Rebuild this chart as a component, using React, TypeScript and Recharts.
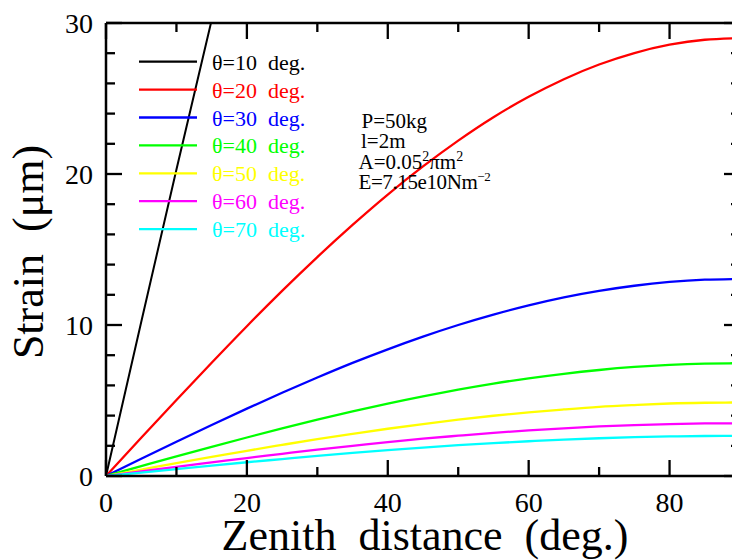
import React from 'react';
import { LineChart, Line, XAxis, YAxis } from 'recharts';

const zenith = [0, 5, 10, 15, 20, 25, 30, 35, 40, 45, 50, 55, 60, 65, 70, 75, 80, 85, 90];
const strain10 = [0, 10.2, 20.3, 30.2, 39.9, null, null, null, null, null, null, null, null, null, null, null, null, null, null];
const strain20 = [0, 2.53, 5.03, 7.5, 9.92, 12.26, 14.5, 16.63, 18.64, 20.5, 22.21, 23.76, 25.11, 26.28, 27.25, 28.01, 28.56, 28.89, 29.0];
const strain30 = [0, 1.14, 2.27, 3.38, 4.46, 5.51, 6.52, 7.49, 8.39, 9.23, 10.0, 10.69, 11.3, 11.83, 12.26, 12.6, 12.85, 13.0, 13.05];
const strain40 = [0, 0.65, 1.3, 1.93, 2.55, 3.16, 3.74, 4.28, 4.8, 5.28, 5.72, 6.12, 6.47, 6.77, 7.02, 7.22, 7.36, 7.44, 7.47];
const strain50 = [0, 0.42, 0.85, 1.26, 1.67, 2.06, 2.44, 2.79, 3.13, 3.44, 3.73, 3.99, 4.22, 4.41, 4.58, 4.7, 4.8, 4.85, 4.87];
const strain60 = [0, 0.3, 0.61, 0.9, 1.19, 1.47, 1.75, 2.0, 2.24, 2.47, 2.67, 2.86, 3.02, 3.16, 3.28, 3.37, 3.44, 3.48, 3.49];
const strain70 = [0, 0.23, 0.46, 0.69, 0.91, 1.12, 1.33, 1.53, 1.71, 1.88, 2.04, 2.18, 2.3, 2.41, 2.5, 2.57, 2.62, 2.65, 2.66];

const seriesLabels = ['θ=10', 'θ=20', 'θ=30', 'θ=40', 'θ=50', 'θ=60', 'θ=70'];
const seriesColors = ['#000000', '#ff0000', '#0000ff', '#00ff00', '#ffff00', '#ff00ff', '#00ffff'];
const seriesKeys = ['t10', 't20', 't30', 't40', 't50', 't60', 't70'];
const seriesValues = [strain10, strain20, strain30, strain40, strain50, strain60, strain70];

const xTicks = [0, 10, 20, 30, 40, 50, 60, 70, 80];
const xLabelTicks = [0, 20, 40, 60, 80];
const yTicks = [0, 2, 4, 6, 8, 10, 12, 14, 16, 18, 20, 22, 24, 26, 28, 30];
const yLabelTicks = [0, 10, 20, 30];

const annotations = ['P=50kg', 'l=2m'];

const data = zenith.map((z, i) => {
  const row: any = { z };
  seriesKeys.forEach((k, j) => {
    row[k] = seriesValues[j][i];
  });
  return row;
});

const FONT = 'Liberation Serif, Times New Roman, Times, DejaVu Serif, serif';
const serif: React.CSSProperties = { fontFamily: FONT };
const MAJOR = 16;
const MINOR = 9;

const BottomTick = (props: any) => {
  const { x, y, payload } = props;
  const major = xLabelTicks.includes(payload.value);
  return (
    <g>
      <line x1={x} x2={x} y1={y} y2={y - (major ? MAJOR : MINOR)} stroke="#000" strokeWidth={2.3} />
      {major && (
        <text x={x} y={y + 36} textAnchor="middle" fontSize={28} style={serif} fill="#000">
          {payload.value}
        </text>
      )}
    </g>
  );
};

const TopTick = (props: any) => {
  const { x, y, payload } = props;
  const major = xLabelTicks.includes(payload.value);
  return <line x1={x} x2={x} y1={y} y2={y + (major ? MAJOR : MINOR)} stroke="#000" strokeWidth={2.3} />;
};

const LeftTick = (props: any) => {
  const { x, y, payload } = props;
  const major = yLabelTicks.includes(payload.value);
  return (
    <g>
      <line x1={x} x2={x + (major ? MAJOR : MINOR)} y1={y} y2={y} stroke="#000" strokeWidth={2.3} />
      {major && (
        <text x={x - 13} y={y + 9.5} textAnchor="end" fontSize={28} style={serif} fill="#000">
          {payload.value}
        </text>
      )}
    </g>
  );
};

const RightTick = (props: any) => {
  const { x, y, payload } = props;
  const major = yLabelTicks.includes(payload.value);
  return <line x1={x} x2={x - (major ? MAJOR : MINOR)} y1={y} y2={y} stroke="#000" strokeWidth={2.3} />;
};

const axisLine = { stroke: '#000', strokeWidth: 2.5 };

export default function App() {
  return (
    <div style={{ position: 'absolute', left: 0, top: 0, width: 732, height: 560, overflow: 'hidden', background: '#fff' }}>
      <LineChart width={742} height={560} data={data} margin={{ top: 22, right: 1, bottom: 0, left: 0 }}>
        <XAxis
          xAxisId="b"
          dataKey="z"
          type="number"
          domain={[0, 90]}
          ticks={xTicks}
          interval={0}
          orientation="bottom"
          height={84}
          tickSize={0}
          tickMargin={0}
          tickLine={false}
          axisLine={axisLine}
          tick={BottomTick}
        />
        <XAxis
          xAxisId="t"
          dataKey="z"
          type="number"
          domain={[0, 90]}
          ticks={xTicks}
          interval={0}
          orientation="top"
          height={1}
          tickSize={0}
          tickMargin={0}
          tickLine={false}
          axisLine={axisLine}
          tick={TopTick}
        />
        <YAxis
          yAxisId="l"
          type="number"
          domain={[0, 30]}
          ticks={yTicks}
          interval={0}
          orientation="left"
          width={106}
          tickSize={0}
          tickMargin={0}
          tickLine={false}
          axisLine={axisLine}
          tick={LeftTick}
          allowDataOverflow
        />
        <YAxis
          yAxisId="r"
          type="number"
          domain={[0, 30]}
          ticks={yTicks}
          interval={0}
          orientation="right"
          width={1}
          tickSize={0}
          tickMargin={0}
          tickLine={false}
          axisLine={axisLine}
          tick={RightTick}
          allowDataOverflow
        />
        {seriesKeys.map((k, j) => (
          <Line
            key={k}
            xAxisId="b"
            yAxisId="l"
            dataKey={k}
            type={j === 0 ? 'linear' : 'natural'}
            stroke={seriesColors[j]}
            strokeWidth={j === 0 ? 2 : 2.3}
            dot={false}
            activeDot={false}
            isAnimationActive={false}
          />
        ))}
      </LineChart>
      <svg
        width={732}
        height={560}
        style={{ position: 'absolute', left: 0, top: 0, pointerEvents: 'none', fontFamily: FONT }}
      >
        {seriesLabels.map((lab, j) => {
          const ly = 61.7 + 27.9 * j;
          return (
            <g key={lab}>
              <line x1={139} x2={197} y1={ly} y2={ly} stroke={seriesColors[j]} strokeWidth={2.3} />
              <text x={212} y={ly + 8} fontSize={22} fill={seriesColors[j]} style={serif}>
                {lab + '\u00a0\u00a0deg.'}
              </text>
            </g>
          );
        })}
        <text x={361.5} y={128} fontSize={21} fill="#000" style={serif}>{annotations[0]}</text>
        <text x={361} y={148} fontSize={21} fill="#000" style={serif}>{annotations[1]}</text>
        <text x={358.5} y={168.5} fontSize={21} fill="#000" style={serif}>
          A=0.05<tspan fontSize={14} dy={-8}>2</tspan>
          <tspan dy={8}>πm</tspan>
          <tspan fontSize={14} dy={-8}>2</tspan>
        </text>
        <text x={358.5} y={189} fontSize={21} fill="#000" style={{ ...serif, letterSpacing: -0.4 }}>
          E=7.15e10Nm<tspan fontSize={13} dy={-8}>−2</tspan>
        </text>
        <text x={425} y={550} fontSize={44} textAnchor="middle" fill="#000" style={serif}>
          {'Zenith\u00a0\u00a0distance\u00a0\u00a0(deg.)'}
        </text>
        <text x={43} y={252} fontSize={44} textAnchor="middle" fill="#000" style={serif} transform="rotate(-90, 43, 252)">
          {'Strain\u00a0\u00a0(μm)'}
        </text>
      </svg>
    </div>
  );
}
